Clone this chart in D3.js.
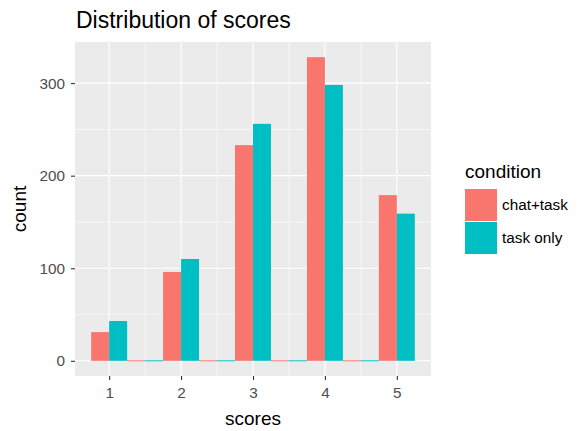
<!DOCTYPE html>
<html>
<head>
<meta charset="utf-8">
<script src="https://cdn.jsdelivr.net/npm/d3@7"></script>
<style>
  html, body { margin: 0; padding: 0; background: #fff; }
  svg { display: block; font-family: "Liberation Sans", Arial, Helvetica, sans-serif; }
</style>
</head>
<body>
<svg id="chart" width="581" height="431"></svg>
<script>
// ---- data ----
const scoreBins = [1, 1.5, 2, 2.5, 3, 3.5, 4, 4.5, 5];
const conditions = ["chat+task", "task only"];
const chatTask = [31, 0, 96, 0, 233, 0, 328, 0, 179];
const taskOnly = [43, 0, 110, 0, 256, 0, 298, 0, 159];
const colors = ["#F8766D", "#00BFC4"];
const xTicks = [1, 2, 3, 4, 5];
const xMinor = [1.5, 2.5, 3.5, 4.5];
const yTicks = [0, 100, 200, 300];
const yMinor = [50, 150, 250];
const binWidth = 0.5;

const series = [chatTask, taskOnly];

// ---- layout ----
const svg = d3.select("#chart");
const panel = { left: 75, right: 431, top: 42, bottom: 376 };

const xMinData = scoreBins[0] - binWidth / 2;
const xMaxData = scoreBins[scoreBins.length - 1] + binWidth / 2;
const xPad = (xMaxData - xMinData) * 0.05;
const x = d3.scaleLinear()
  .domain([xMinData - xPad, xMaxData + xPad])
  .range([panel.left, panel.right]);

const yMax = d3.max(series.flat());
const y = d3.scaleLinear()
  .domain([-yMax * 0.05, yMax * 1.05])
  .range([panel.bottom, panel.top]);

// panel background
svg.append("rect")
  .attr("x", panel.left).attr("y", panel.top)
  .attr("width", panel.right - panel.left).attr("height", panel.bottom - panel.top)
  .attr("fill", "#EBEBEB");

const grid = svg.append("g");
// minor gridlines
yMinor.forEach(v => grid.append("line")
  .attr("x1", panel.left).attr("x2", panel.right)
  .attr("y1", y(v)).attr("y2", y(v))
  .attr("stroke", "#fff").attr("stroke-width", 0.55));
xMinor.forEach(v => grid.append("line")
  .attr("y1", panel.top).attr("y2", panel.bottom)
  .attr("x1", x(v)).attr("x2", x(v))
  .attr("stroke", "#fff").attr("stroke-width", 0.55));
// major gridlines
yTicks.forEach(v => grid.append("line")
  .attr("x1", panel.left).attr("x2", panel.right)
  .attr("y1", y(v)).attr("y2", y(v))
  .attr("stroke", "#fff").attr("stroke-width", 1.1));
xTicks.forEach(v => grid.append("line")
  .attr("y1", panel.top).attr("y2", panel.bottom)
  .attr("x1", x(v)).attr("x2", x(v))
  .attr("stroke", "#fff").attr("stroke-width", 1.1));

// bars (dodged)
const sub = d3.scaleBand().domain(conditions).range([0, binWidth]);
const bars = svg.append("g");
series.forEach((vals, si) => {
  bars.selectAll(null)
    .data(scoreBins.map((b, i) => ({ b, v: vals[i] })))
    .enter().append("rect")
    .attr("x", d => x(d.b - binWidth / 2 + sub(conditions[si])))
    .attr("width", d => x(d.b - binWidth / 2 + sub(conditions[si]) + sub.bandwidth()) - x(d.b - binWidth / 2 + sub(conditions[si])))
    .attr("y", d => d.v > 0 ? y(d.v) : y(0) - 0.5)
    .attr("height", d => d.v > 0 ? y(0) - y(d.v) : 1)
    .attr("fill", colors[si]);
});

// axes
const tickColor = "#333333";
const labelColor = "#4D4D4D";
const xAxis = svg.append("g")
  .attr("transform", `translate(0,${panel.bottom})`)
  .call(d3.axisBottom(x).tickValues(xTicks).tickSize(4).tickPadding(7).tickFormat(d3.format("d")));
const yAxis = svg.append("g")
  .attr("transform", `translate(${panel.left},0)`)
  .call(d3.axisLeft(y).tickValues(yTicks).tickSize(4).tickPadding(6).tickFormat(d3.format("d")));
[xAxis, yAxis].forEach(a => {
  a.select(".domain").remove();
  a.selectAll(".tick line").attr("stroke", tickColor).attr("stroke-width", 1.1);
  a.selectAll(".tick text").attr("fill", labelColor)
    .style("font-size", "15.3px")
    .style("font-family", "'Liberation Sans', Arial, sans-serif");
});

// titles
svg.append("text")
  .attr("x", 76).attr("y", 28)
  .style("font-size", "23px")
  .attr("fill", "#000")
  .text("Distribution of scores");

svg.append("text")
  .attr("x", (panel.left + panel.right) / 2).attr("y", 425)
  .attr("text-anchor", "middle")
  .style("font-size", "19px")
  .text("scores");

svg.append("text")
  .attr("transform", `translate(26,${(panel.top + panel.bottom) / 2}) rotate(-90)`)
  .attr("text-anchor", "middle")
  .style("font-size", "19px")
  .text("count");

// legend
const legend = svg.append("g");
legend.append("text")
  .attr("x", 465).attr("y", 178)
  .style("font-size", "19px")
  .text("condition");
conditions.forEach((c, i) => {
  const top = 189 + i * 33;
  legend.append("rect")
    .attr("x", 465).attr("y", top)
    .attr("width", 32).attr("height", 32)
    .attr("fill", colors[i]);
  legend.append("text")
    .attr("x", 502).attr("y", top + 16)
    .attr("dy", "0.35em")
    .style("font-size", "15.3px")
    .text(c);
});
</script>
</body>
</html>
